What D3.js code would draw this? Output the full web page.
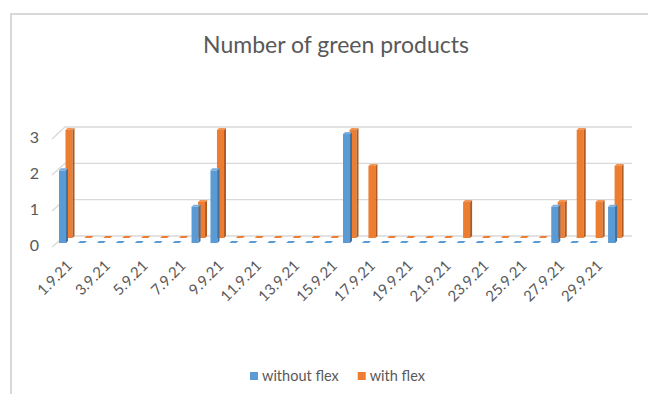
<!DOCTYPE html>
<html>
<head>
<meta charset="utf-8">
<script src="https://cdn.jsdelivr.net/npm/d3@7"></script>
<style>
  html, body { margin: 0; padding: 0; background: #fff; }
  svg { display: block; font-family: Lato, "Open Sans", sans-serif; }
</style>
</head>
<body>
<svg id="chart" width="648" height="394"></svg>
<script>
// Daily counts of green products, September 2021
const days = d3.range(1, 31).map(d => `${d}.9.21`);
const withoutFlex = [2,0,0,0,0,0,0,1,2,0,0,0,0,0,0,3,0,0,0,0,0,0,0,0,0,0,1,0,0,1];
const withFlex    = [3,0,0,0,0,0,0,1,3,0,0,0,0,0,0,3,2,0,0,0,0,1,0,0,0,0,1,3,1,2];
const yTicks = [0, 1, 2, 3];
const xTickLabels = days.filter((d, i) => i % 2 === 0);
const seriesNames = ["without flex", "with flex"];

const palette = {
  "without flex": { front: "#5b9bd5", side: "#41719c", top: "#7cb0e0" },
  "with flex":    { front: "#ed7d31", side: "#ae5a21", top: "#f29656" }
};

const svg = d3.select("#chart");

// chart frame
svg.append("path")
  .attr("d", "M11,400 L11,14 L660,14")
  .attr("fill", "none")
  .attr("stroke", "#d9d9d9")
  .attr("stroke-width", 2);

// title
svg.append("text")
  .attr("x", 336).attr("y", 53)
  .attr("text-anchor", "middle")
  .attr("fill", "#595959")
  .attr("font-size", 23)
  .text("Number of green products");

// scales: back wall (gridlines), front edge (labels), and the two series rows
const x = d3.scaleBand().domain(days).range([50, 618]);
const yBack = d3.scaleLinear().domain([0, 3]).range([236, 127]);
const yFront = d3.scaleLinear().domain([0, 3]).range([245, 137]);
const yBlue = d3.scaleLinear().domain([0, 3]).range([243, 134]);
const yOrange = d3.scaleLinear().domain([0, 3]).range([238, 130]);

// gridlines with the slanted side-wall segment
const grid = svg.append("g").attr("stroke", "#d9d9d9").attr("stroke-width", 1.3).attr("fill", "none");
yTicks.forEach(v => {
  grid.append("path")
    .attr("d", `M52,${yFront(v) + 2} L65,${yBack(v)} L632,${yBack(v)}`);
});

// y axis labels
const yAxis = d3.axisLeft(yFront).tickValues(yTicks).tickSize(0).tickPadding(0).tickFormat(d3.format("d"));
const yG = svg.append("g").attr("transform", "translate(39,0)").call(yAxis);
yG.select(".domain").remove();
yG.selectAll("text").attr("fill", "#595959").attr("font-size", 16).attr("font-family", "Lato, sans-serif");

// x axis labels, rotated
const xAxis = d3.axisBottom(x).tickValues(xTickLabels).tickSize(0).tickPadding(0);
const xG = svg.append("g").attr("transform", "translate(0,258)").call(xAxis);
xG.select(".domain").remove();
xG.selectAll("text")
  .attr("fill", "#595959")
  .attr("font-size", 15)
  .attr("font-family", "Lato, sans-serif")
  .attr("text-anchor", "end")
  .attr("dy", "0.35em")
  .attr("transform", "translate(10,5) rotate(-45)");

// 3D column: front face, right side face, top face
const faceW = 7, depth = 2;
function drawColumns(values, name, yS, dx) {
  const c = palette[name];
  const g = svg.append("g");
  values.forEach((v, i) => {
    const x0 = x(days[i]) + dx;
    const base = yS(0);
    const top = yS(v);
    if (v > 0) {
      g.append("rect")
        .attr("x", x0).attr("y", top)
        .attr("width", faceW).attr("height", base - top)
        .attr("fill", c.front);
      g.append("path")
        .attr("d", `M${x0 + faceW},${top} L${x0 + faceW + depth},${top - depth} L${x0 + faceW + depth},${base - depth} L${x0 + faceW},${base} Z`)
        .attr("fill", c.side);
    }
    g.append("path")
      .attr("d", `M${x0},${top} L${x0 + faceW},${top} L${x0 + faceW + depth},${top - depth} L${x0 + depth},${top - depth} Z`)
      .attr("fill", v > 0 ? c.top : c.front);
  });
}
drawColumns(withFlex, "with flex", yOrange, 15.5);
drawColumns(withoutFlex, "without flex", yBlue, 9);

// legend
const legend = svg.append("g").attr("transform", "translate(250,376)");
let lx = 0;
seriesNames.forEach(name => {
  const item = legend.append("g").attr("transform", `translate(${lx},0)`);
  item.append("rect").attr("x", 0).attr("y", -4).attr("width", 8).attr("height", 8).attr("fill", palette[name].front);
  const t = item.append("text").attr("x", 12).attr("y", 0).attr("dy", "0.35em")
    .attr("fill", "#595959").attr("font-size", 14.5).text(name);
  lx += 12 + t.node().getComputedTextLength() + 19;
});
</script>
</body>
</html>
